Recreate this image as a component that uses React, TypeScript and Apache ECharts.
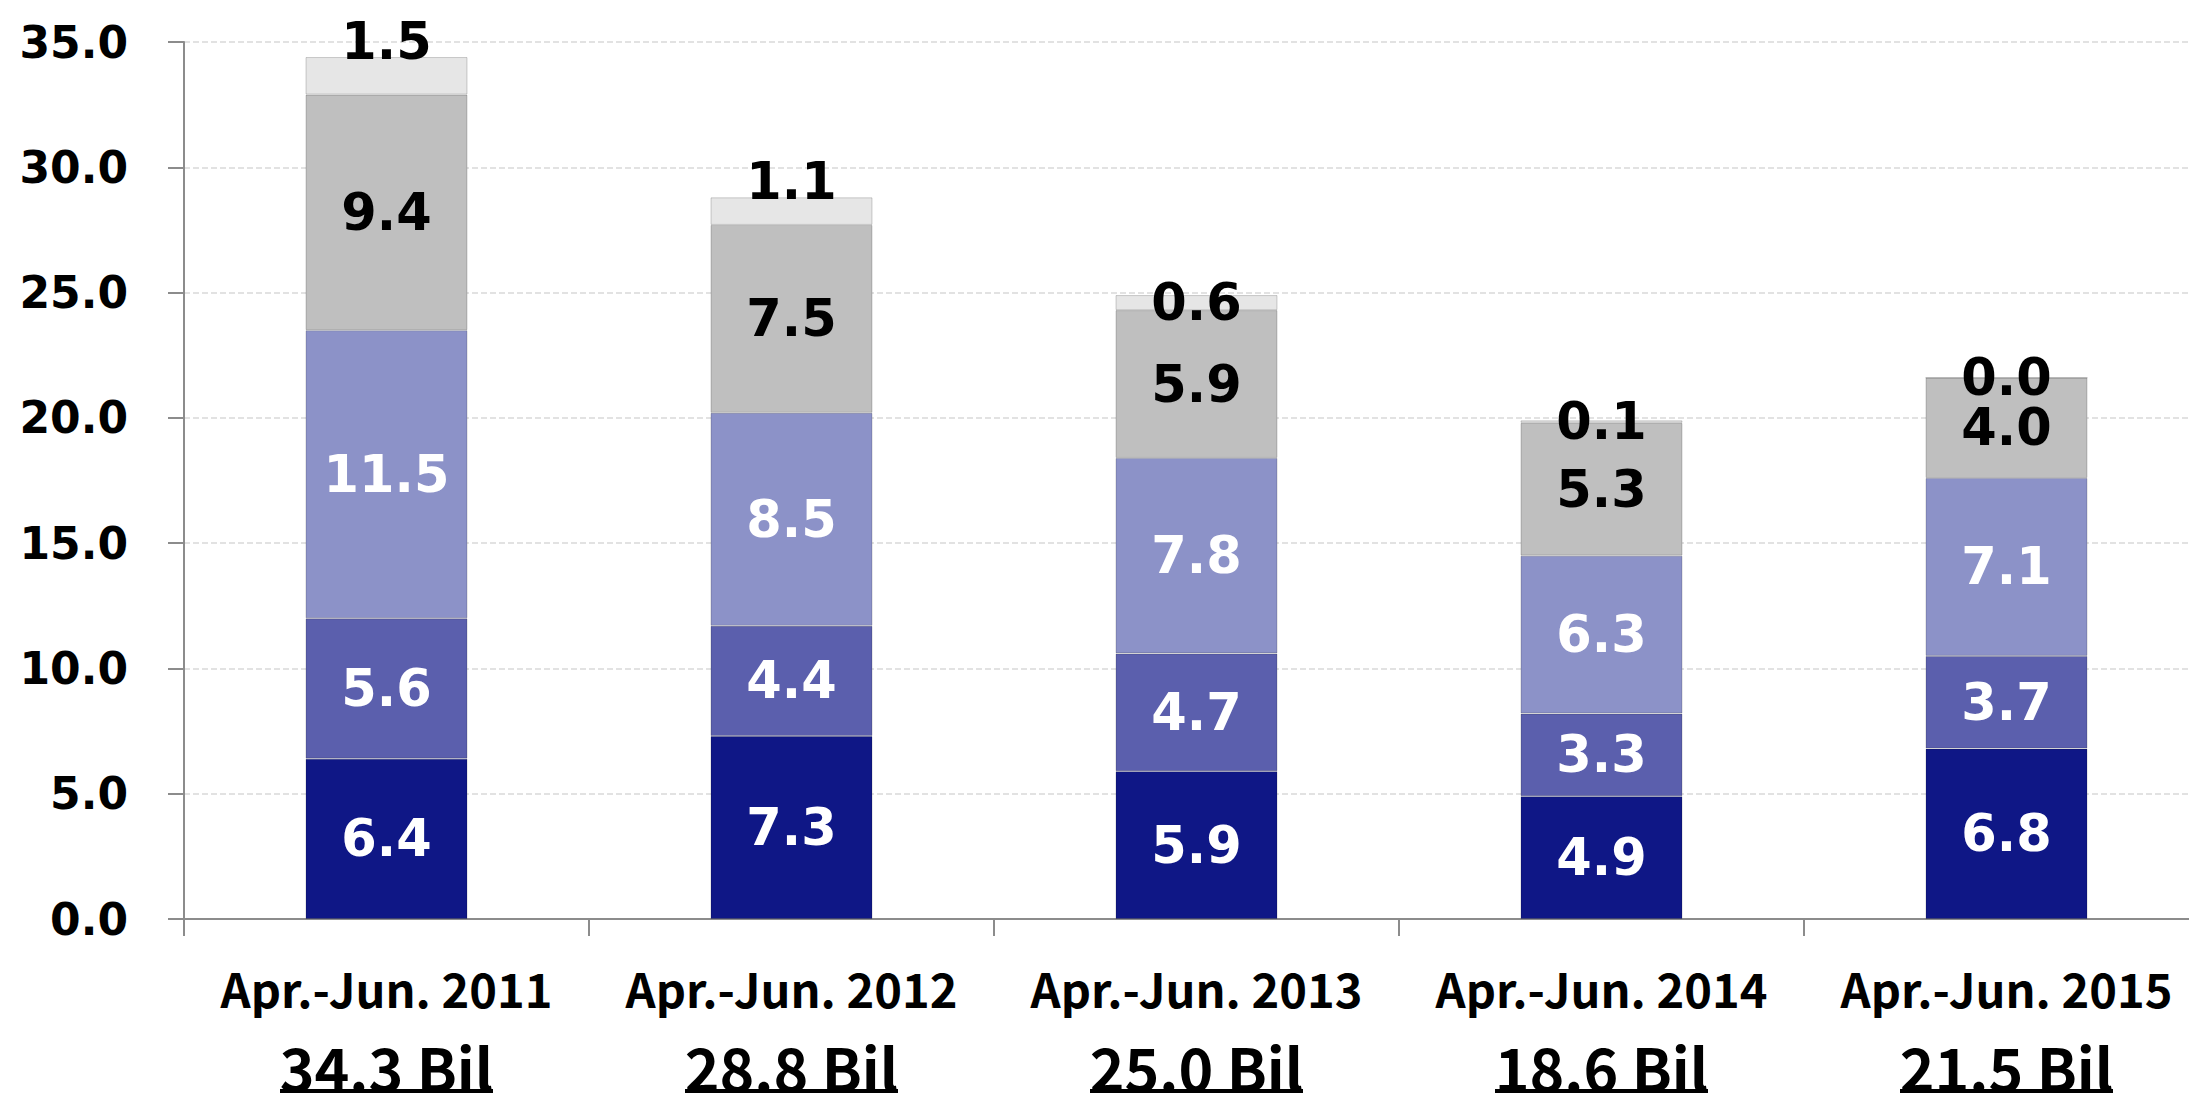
import React, { useEffect, useRef } from "react";
import * as echarts from "echarts";

const categories = ["Apr.-Jun. 2011", "Apr.-Jun. 2012", "Apr.-Jun. 2013", "Apr.-Jun. 2014", "Apr.-Jun. 2015"];
const totals = ["34.3 Bil", "28.8 Bil", "25.0 Bil", "18.6 Bil", "21.5 Bil"];

const seriesNavy = [6.4, 7.3, 5.9, 4.9, 6.8];
const seriesMid = [5.6, 4.4, 4.7, 3.3, 3.7];
const seriesLight = [11.5, 8.5, 7.8, 6.3, 7.1];
const seriesGray = [9.4, 7.5, 5.9, 5.3, 4.0];
const seriesPale = [1.5, 1.1, 0.6, 0.1, 0.0];

const colors = ["#0F1786", "#5B5FAD", "#8C92C8", "#BFBFBF", "#E6E6E6"];

const labelFont = {
  fontFamily: "DejaVu Sans",
  fontWeight: "bold" as const,
  fontSize: 51,
};

function makeSeries(name: string, data: number[], color: string, textColor: string, topMode = false) {
  return {
    name,
    type: "bar",
    stack: "total",
    barWidth: 162,
    itemStyle: { color, borderColor: "rgba(0,0,0,0.18)", borderWidth: 1 },
    label: {
      show: true,
      position: "inside",
      color: textColor,
      ...labelFont,
      formatter: (p: any) => Number(p.value).toFixed(1),
    },
    data: data.map((v) =>
      topMode && v >= 1
        ? { value: v, label: { position: "top", distance: -10 } }
        : { value: v }
    ),
  };
}

export default function App() {
  const ref = useRef<HTMLDivElement>(null);
  useEffect(() => {
    if (!ref.current) return;
    const chart = echarts.init(ref.current, undefined, { renderer: "svg" });
    chart.setOption({
      animation: false,
      backgroundColor: "#ffffff",
      grid: { left: 184, top: 42, height: 877, right: 6 },
      xAxis: {
        type: "category",
        data: categories,
        axisLine: { show: true, lineStyle: { color: "#8C8C8C", width: 2 } },
        axisTick: { show: true, length: 17, lineStyle: { color: "#8C8C8C", width: 2 } },
        splitLine: { show: false },
        axisLabel: {
          interval: 0,
          margin: 12,
          formatter: (value: string, index: number) => `{a|${value}}\n{b|${totals[index]}}\n{u| }`,
          rich: {
            a: {
              fontFamily: "Noto Sans CJK JP",
              fontWeight: "bold",
              fontSize: 47,
              lineHeight: 112,
              color: "#000",
            },
            b: {
              fontFamily: "Noto Sans CJK JP",
              fontWeight: "bold",
              fontSize: 59,
              lineHeight: 46,
              color: "#000",
            },
            u: {
              width: 213,
              height: 4,
              lineHeight: 4,
              fontSize: 1,
              backgroundColor: "#000",
            },
          },
        },
      },
      yAxis: {
        type: "value",
        min: 0,
        max: 35,
        interval: 5,
        axisLine: { show: true, lineStyle: { color: "#8C8C8C", width: 2 } },
        axisTick: { show: true, length: 16, lineStyle: { color: "#8C8C8C", width: 2 } },
        splitLine: { show: true, lineStyle: { color: "#D9D9D9", type: "dashed", width: 1.5 } },
        axisLabel: {
          margin: 56,
          color: "#000",
          fontFamily: "DejaVu Sans",
          fontWeight: "bold",
          fontSize: 44,
          formatter: (v: number) => v.toFixed(1),
        },
      },
      series: [
        makeSeries("s1", seriesNavy, colors[0], "#ffffff"),
        makeSeries("s2", seriesMid, colors[1], "#ffffff"),
        makeSeries("s3", seriesLight, colors[2], "#ffffff"),
        makeSeries("s4", seriesGray, colors[3], "#000000"),
        makeSeries("s5", seriesPale, colors[4], "#000000", true),
      ],
    });
    return () => chart.dispose();
  }, []);
  return (
    <div
      ref={ref}
      style={{ position: "fixed", left: 0, top: 0, width: 2215, height: 1097, background: "#fff" }}
    />
  );
}
